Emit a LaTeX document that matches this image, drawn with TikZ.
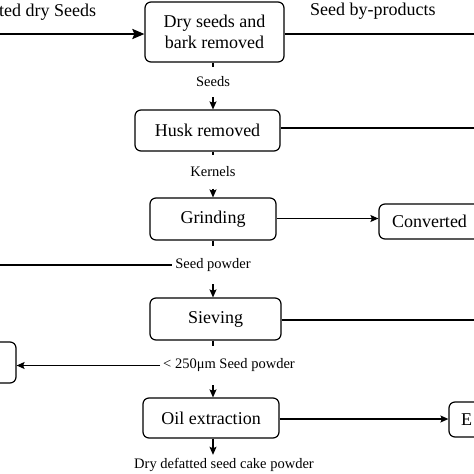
\documentclass[tikz,border=0pt]{standalone}
\usepackage{fontspec}
\setmainfont{Liberation Serif}
\usetikzlibrary{arrows.meta,calc}
\begin{document}
\begin{tikzpicture}[x=1pt,y=-1pt,
  box/.style={draw, line width=1.2pt, rounded corners=6pt, inner sep=0pt,
    font=\fontsize{18}{21}\selectfont, align=center},
  cutbox/.style={box, align=left, minimum width=111pt},
  lbl/.style={inner xsep=2pt, inner ysep=0pt, font=\fontsize{14.5}{17}\selectfont},
  toplbl/.style={inner sep=0pt, font=\fontsize{18}{21}\selectfont},
  flow/.style={line width=1.2pt},
  arr/.style={flow, -{Stealth[length=8pt,width=7pt,inset=1.5pt]}},
  bigline/.style={line width=2.2pt},
  bigarr/.style={bigline, -{Stealth[length=12pt,width=10pt,inset=2pt]}}
]
\useasboundingbox (0,0) rectangle (474,474);
\coordinate (ax) at (213,0);
\coordinate (re) at (490,0);
% boxes
\node[box, minimum width=139pt, minimum height=60pt] (dry) at (214.5,32) {Dry seeds and\\bark removed};
\node[box, minimum width=145pt, minimum height=41pt] (husk) at (207.5,130.5) {Husk removed};
\node[box, minimum width=126pt, minimum height=42pt] (grind) at (213,219) {Grinding};
\node[cutbox, minimum height=35pt, inner xsep=13pt, text width=85pt] (conv) at (434.5,221.5) {Converted};
\node[box, minimum width=131pt, minimum height=42pt] (sieve) at (215.5,319) {Sieving};
\node[box, minimum width=111pt, minimum height=41pt] (left) at (-39.5,362.5) {};
\node[box, minimum width=136pt, minimum height=40pt] (oil) at (211,418) {Oil extraction};
\node[cutbox, minimum height=35pt, inner xsep=12pt, text width=87pt] (ebox) at (504.5,419.5) {E};
% labels
\node[lbl, minimum height=30pt] (seeds) at (213,82) {Seeds};
\node[lbl, minimum height=33pt] (kern) at (213,172) {Kernels};
\node[lbl, minimum height=38pt, inner xsep=3pt] (spow) at (213,265) {Seed powder};
\node[lbl, minimum height=39pt, inner xsep=3pt] (fine) at (229,365.5) {< 250μm Seed powder};
\node[lbl, minimum height=20pt] (cake) at (224,465) {Dry defatted seed cake powder};
\node[toplbl, anchor=base west] (inlbl) at (-1,16) {ted dry Seeds};
\node[toplbl, anchor=base west] (bylbl) at (310,15) {Seed by-products};
% top thick lines
\coordinate (ts) at (-5,34);
\draw[bigarr] (ts) -- (ts -| dry.west);
\draw[bigline] (dry.east |- ts) -- (ts -| re);
% vertical flow
\draw[flow] (ax |- dry.south) -- (ax |- seeds.north);
\draw[arr] (ax |- seeds.south) -- (ax |- husk.north);
\draw[flow] (ax |- husk.south) -- (ax |- kern.north);
\draw[arr] (ax |- kern.south) -- (ax |- grind.north);
\draw[flow] (ax |- grind.south) -- (ax |- spow.north);
\draw[arr] (ax |- spow.south) -- (ax |- sieve.north);
\draw[flow] (ax |- sieve.south) -- (ax |- fine.north);
\draw[arr] (ax |- fine.south) -- (ax |- oil.north);
\draw[arr] (ax |- oil.south) -- (ax |- cake.north);
% side connectors
\draw[flow] (husk.east |- 0,128) -- (re |- 0,128);
\draw[arr] (grind.east |- 0,218.5) -- (conv.west |- 0,218.5);
\coordinate (ls) at (0,265);
\draw[flow] (ls) -- (spow.west);
\draw[flow] (sieve.east |- 0,320) -- (re |- 0,320);
\draw[arr] (fine.west) -- (fine.west -| left.east);
\draw[arr] (oil.east |- 0,419) -- (ebox.west |- 0,419);
\end{tikzpicture}
\end{document}
